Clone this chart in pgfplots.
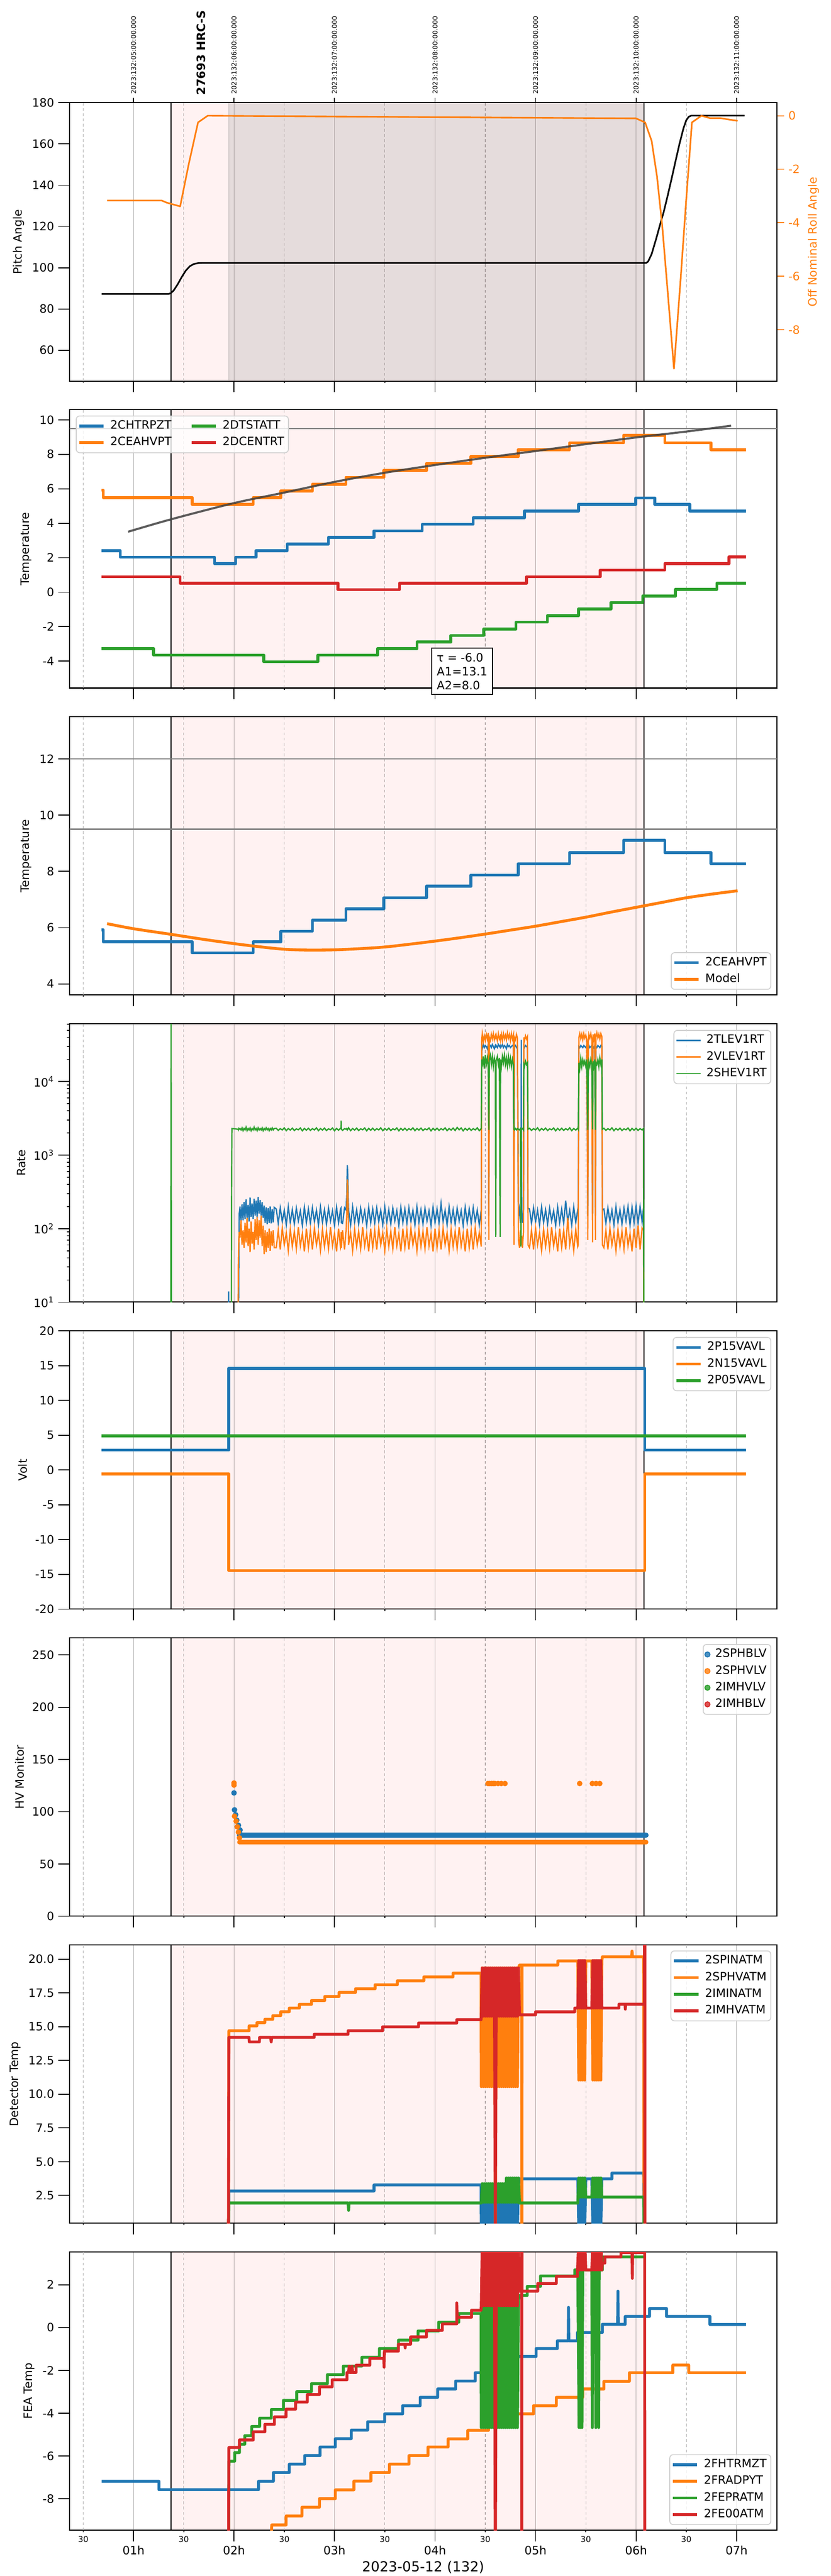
\documentclass[border=0pt]{standalone}
\usepackage{fontspec}
\setmainfont{DejaVu Sans}
\usepackage{pgfplots}
\usepackage{pgfplotstable}
\pgfplotsset{compat=1.18}
\definecolor{C0}{HTML}{1F77B4}
\definecolor{C1}{HTML}{FF7F0E}
\definecolor{C2}{HTML}{2CA02C}
\definecolor{C3}{HTML}{D62728}
\definecolor{gridc}{HTML}{B0B0B0}

\pgfplotstableread{
t tl vl sh
0.684 1 1 1
1.370 1 1 1
1.374 1 1 100000
1.378 1 1 1
1.944 1 1 1
1.947 14 1 1
1.950 1 1 1
1.972 1 1 1
1.976 1 1 500
1.980 1 1 2300
2.040 1 1 2250
2.043 1 30 2200
2.048 40 70 2300
2.052 160 90 2250
2.06 200 75 2300
2.07 125 130 2200
2.08 215 60 2350
2.09 130 95 2150
2.10 230 55 2300
2.11 135 120 2200
2.12 250 65 2400
2.13 140 140 2150
2.14 210 58 2300
2.15 125 100 2200
2.16 265 48 2350
2.17 145 125 2150
2.18 220 62 2300
2.19 135 90 2200
2.20 255 52 2400
2.21 150 135 2200
2.22 240 70 2300
2.23 140 145 2150
2.24 270 60 2350
2.25 160 130 2200
2.26 245 75 2300
2.27 150 150 2200
2.28 230 58 2350
2.29 140 110 2150
2.30 205 45 2300
2.31 120 95 2200
2.32 195 48 2350
2.33 115 90 2200
2.34 190 55 2300
2.35 120 100 2150
2.36 200 50 2300
2.37 118 92 2200
2.38 185 58 2350
2.39 122 95 2200
2.40 195 55 2300
2.42 185 55 2320
2.44 118 95 2170
2.46 192 52 2290
2.48 124 102 2200
2.50 178 60 2350
2.52 112 88 2150
2.54 198 50 2300
2.56 121 98 2190
2.58 181 57 2330
2.60 115 92 2160
2.62 190 53 2280
2.64 127 105 2210
2.66 175 58 2340
2.68 110 86 2140
2.70 196 49 2310
2.72 120 100 2180
2.74 185 55 2320
2.76 118 95 2170
2.78 192 52 2290
2.80 124 102 2200
2.82 178 60 2350
2.84 112 88 2150
2.86 198 50 2300
2.88 121 98 2190
2.90 181 57 2330
2.92 115 92 2160
2.94 190 53 2280
2.96 127 105 2210
2.98 175 58 2340
3.00 110 86 2140
3.02 196 49 2310
3.04 120 100 2180
3.06 185 55 2320
3.064 190 58 2300
3.066 175 90 2950
3.068 120 55 2250
3.08 118 95 2170
3.10 192 52 2290
3.115 180 95 2250
3.122 300 160 2300
3.127 731 466 2200
3.132 550 380 2250
3.137 250 120 2300
3.14 178 60 2350
3.16 112 88 2150
3.18 198 50 2300
3.20 121 98 2190
3.22 181 57 2330
3.24 115 92 2160
3.26 190 53 2280
3.28 127 105 2210
3.30 175 58 2340
3.32 110 86 2140
3.34 196 49 2310
3.36 120 100 2180
3.38 185 55 2320
3.40 118 95 2170
3.42 192 52 2290
3.44 124 102 2200
3.46 178 60 2350
3.48 112 88 2150
3.50 198 50 2300
3.52 121 98 2190
3.54 181 57 2330
3.56 115 92 2160
3.58 190 53 2280
3.60 127 105 2210
3.62 175 58 2340
3.64 110 86 2140
3.66 196 49 2310
3.68 120 100 2180
3.70 185 55 2320
3.72 118 95 2170
3.74 192 52 2290
3.76 124 102 2200
3.78 178 60 2350
3.80 112 88 2150
3.82 198 50 2300
3.84 121 98 2190
3.86 181 57 2330
3.88 115 92 2160
3.90 190 53 2280
3.92 127 105 2210
3.94 175 58 2340
3.96 110 86 2140
3.98 196 49 2310
4.00 120 100 2180
4.02 185 55 2320
4.04 118 95 2170
4.06 220 52 2290
4.08 124 102 2200
4.10 178 60 2350
4.12 112 88 2150
4.14 198 50 2300
4.16 121 98 2190
4.18 181 57 2330
4.20 115 92 2160
4.22 190 53 2380
4.24 127 105 2210
4.26 175 58 2340
4.28 110 86 2140
4.30 196 49 2310
4.32 120 100 2180
4.34 185 55 2320
4.36 118 95 2170
4.38 192 52 2290
4.40 124 102 2200
4.42 178 60 2350
4.44 112 88 2150
4.46 181 57 2300
4.465 30000 38000 20000
4.47 28000 45000 16000
4.48 32000 35000 22000
4.49 29000 42000 15000
4.50 31000 36000 23000
4.51 30000 44000 17000
4.52 28000 38000 21000
4.53 32000 46000 16000
4.535 150 70 2200
4.54 30000 40000 20000
4.55 31000 36000 23000
4.56 29000 44000 17000
4.57 32000 38000 22000
4.58 30000 45000 16000
4.59 28000 37000 21000
4.60 31000 42000 18000
4.604 30000 40000 77
4.608 31000 43000 19000
4.62 29000 36000 22000
4.63 32000 45000 17000
4.64 30000 38000 21000
4.648 31000 41000 77
4.652 29000 37000 20000
4.66 30000 44000 16000
4.67 32000 36000 22000
4.68 29000 45000 18000
4.69 31000 38000 23000
4.70 30000 43000 17000
4.71 28000 37000 21000
4.72 32000 46000 16000
4.73 30000 39000 22000
4.74 31000 44000 17000
4.75 29000 36000 21000
4.76 30000 45000 16000
4.77 31000 38000 20000
4.78 30000 43000 17000
4.785 160 60 2250
4.79 30000 40000 2200
4.80 31000 37000 2300
4.81 29000 44000 2200
4.82 30000 39000 2300
4.83 150 70 2250
4.84 185 55 2200
4.85 120 95 2300
4.855 150 70 57
4.858 37000 60 2200
4.862 160 80 2250
4.87 120 55 2300
4.88 185 90 2200
4.884 30000 40000 17000
4.89 29000 36000 16000
4.90 31000 42000 19000
4.91 30000 38000 17000
4.92 29000 41000 18000
4.925 190 60 2250
4.94 185 55 2320
4.96 118 95 2170
4.98 192 52 2290
5.00 124 102 2200
5.02 178 60 2350
5.04 112 88 2150
5.06 198 50 2300
5.08 121 98 2190
5.10 181 57 2330
5.12 115 92 2160
5.14 190 53 2280
5.16 127 105 2210
5.18 175 58 2340
5.20 110 86 2140
5.22 196 49 2310
5.24 120 100 2180
5.26 185 55 2320
5.28 118 95 2170
5.30 240 52 2290
5.32 124 140 2200
5.34 178 60 2350
5.36 112 88 2150
5.38 198 50 2300
5.40 121 98 2190
5.42 181 57 2330
5.425 170 60 2250
5.431 30000 40000 18000
5.44 29000 45000 15000
5.45 31000 38000 21000
5.46 30000 44000 16000
5.47 29000 37000 20000
5.48 31000 45000 17000
5.49 30000 39000 19000
5.50 29000 43000 16000
5.51 31000 37000 20000
5.52 150 70 2200
5.525 30000 38000 17000
5.53 31000 44000 19000
5.54 29000 39000 16000
5.55 30000 45000 20000
5.56 31000 38000 17000
5.567 160 65 2250
5.572 30000 44000 19000
5.58 29000 38000 16000
5.59 31000 45000 20000
5.596 150 70 2200
5.60 30000 40000 18000
5.61 29000 46000 17000
5.62 31000 39000 20000
5.63 30000 44000 16000
5.64 29000 38000 21000
5.65 31000 45000 17000
5.66 30000 41000 20000
5.665 180 60 2250
5.68 185 55 2320
5.70 118 95 2170
5.72 192 52 2290
5.74 124 102 2200
5.76 178 60 2350
5.78 112 88 2150
5.80 198 50 2300
5.82 121 98 2190
5.84 181 57 2330
5.86 115 92 2160
5.88 190 53 2280
5.90 127 105 2210
5.92 200 58 2340
5.94 110 86 2140
5.96 196 49 2310
5.98 120 100 2180
6.00 205 55 2320
6.02 118 110 2170
6.04 200 52 2290
6.06 124 102 2200
6.074 190 95 2300
6.078 1 1 1
6.09 1 1 1
}\ratetab

\pgfplotsset{
  base/.style={
    scale only axis, width=613.1pt, height=241.2pt, anchor=north west,
    xmin=0.362, xmax=7.402,
    xtick={1,2,3,4,5,6,7}, xticklabels={,,,,,,},
    extra x ticks={0.5,1.5,2.5,3.5,4.5,5.5,6.5}, extra x tick labels={,,,,,,},
    extra x tick style={major tick length=1.5pt, major grid style={gridc, line width=0.5pt, dash pattern=on 2.5pt off 2pt}},
    xmajorgrids=true, major grid style={gridc, line width=0.5pt},
    tick align=outside, xtick pos=left, ytick pos=left,
    major tick length=9.7pt, minor tick length=2.3pt,
    tick style={black, line width=0.8pt},
    axis line style={black, line width=0.9pt},
    tick label style={font=\fontsize{10}{12}\selectfont},
    label style={font=\fontsize{10}{12}\selectfont},
    /pgf/number format/assume math mode=true,
    clip mode=individual,
    legend cell align=left,
    legend style={font=\fontsize{10}{12}\selectfont, draw=black!18, line width=0.8pt, rounded corners=3pt,
      fill=white, fill opacity=0.8, text opacity=1, draw opacity=1,
      inner xsep=1.5pt, inner ysep=1.5pt, row sep=0pt, column sep=2.4pt,
      nodes={inner sep=2.2pt, text height=7.5pt, text depth=2.5pt}},
    legend image code/.code={\draw[#1] (0pt,0pt) -- (21pt,0pt);},
  },
  thk/.style={line width=2.5pt, line join=round},
}
\newcommand{\spans}[2]{%
  \addplot[fill=red, fill opacity=0.05, draw=none, forget plot] coordinates {(1.374,#1)(6.079,#1)(6.079,#2)(1.374,#2)} -- cycle;
  \addplot[black, line width=0.6pt, forget plot] coordinates {(1.374,#1)(1.374,#2)};
  \addplot[black, line width=0.6pt, forget plot] coordinates {(6.079,#1)(6.079,#2)};
}

\begin{document}
\begin{tikzpicture}
% ---------------- panel 1
\begin{axis}[base, at={(60.12pt,-88.92pt)},
  ymin=45.1, ymax=180, ytick={60,80,100,120,140,160,180}, ylabel={Pitch Angle}]
\spans{45.1}{180}
\addplot[fill=black!50, fill opacity=0.2, draw=black!50, draw opacity=0.25, line width=1pt, forget plot] coordinates {(1.948,45.1)(6.079,45.1)(6.079,180)(1.948,180)} -- cycle;
\addplot[black, line width=1.4pt, line join=round] coordinates {(0.684,87.3)(1.348,87.3)(1.37,87.6)(1.40,89.0)(1.44,92.0)(1.48,95.5)(1.52,98.6)(1.56,100.7)(1.60,101.8)(1.64,102.2)(1.68,102.3)(6.10,102.3)(6.12,103.0)(6.155,106.6)(6.20,114)(6.234,120)(6.275,127)(6.313,134.6)(6.353,143)(6.393,151.7)(6.432,160)(6.472,167.6)(6.50,171.5)(6.525,173.2)(6.55,173.7)(7.08,173.7)};
\node[rotate=90, anchor=west, font=\bfseries\fontsize{10}{12}\selectfont, inner sep=0pt] at ([yshift=6.5pt]axis cs:1.675,180) {27693 HRC-S};
\end{axis}
% top date labels
\begin{axis}[scale only axis, width=613.1pt, height=241.2pt, anchor=north west, at={(60.12pt,-88.92pt)},
  xmin=0.362, xmax=7.402, ymin=0, ymax=1, axis y line=none, axis x line*=top,
  xtick={1,2,3,4,5,6,7}, tick align=outside, major tick length=4pt,
  xtick style={black, line width=0.8pt}, axis line style={black, line width=0.9pt},
  xticklabels={2023:132:05:00:00.000,2023:132:06:00:00.000,2023:132:07:00:00.000,2023:132:08:00:00.000,2023:132:09:00:00.000,2023:132:10:00:00.000,2023:132:11:00:00.000},
  xticklabel style={rotate=90, anchor=west, font=\fontsize{5.7}{6}\selectfont}]
\end{axis}
\begin{axis}[scale only axis, width=613.1pt, height=241.2pt, anchor=north west, at={(60.12pt,-88.92pt)},
  xmin=0.362, xmax=7.402, axis x line=none, axis y line*=right,
  ymin=-9.92, ymax=0.49, ytick={-8,-6,-4,-2,0}, tick align=outside, major tick length=6.4pt,
  ytick style={C1, line width=0.8pt}, yticklabel style={C1, font=\fontsize{10}{12}\selectfont},
  axis line style={black, line width=0.9pt},
  ylabel={Off Nominal Roll Angle}, ylabel style={C1, font=\fontsize{10}{12}\selectfont},
  /pgf/number format/assume math mode=true, clip mode=individual]
\addplot[C1, line width=1.4pt, line join=round] coordinates {(0.737,-3.17)(1.28,-3.17)(1.33,-3.25)(1.464,-3.39)(1.55,-1.8)(1.642,-0.25)(1.738,0.0)(6.0,-0.10)(6.09,-0.25)(6.155,-0.94)(6.208,-2.26)(6.261,-4.14)(6.313,-6.5)(6.377,-9.46)(6.445,-6.03)(6.498,-3.2)(6.556,-0.25)(6.651,0.0)(6.735,-0.09)(6.841,-0.09)(6.92,-0.14)(7.01,-0.19)};
\end{axis}

% ---------------- panel 2
\begin{axis}[base, at={(60.12pt,-354.96pt)},
  ymin=-5.56, ymax=10.59, ytick={-4,-2,0,2,4,6,8,10}, ylabel={Temperature},
  legend columns=2, transpose legend,
  legend style={at={(0.009,0.979)}, anchor=north west, /tikz/every even column/.append style={column sep=14pt}}]
\spans{-5.56}{10.59}
\addplot[black!50, line width=1pt, forget plot] coordinates {(0.362,9.5)(7.402,9.5)};
\addplot[C0, thk] coordinates {(0.684,2.41)(0.868,2.41)(0.868,2.03)(1.807,2.03)(1.807,1.65)(2.017,1.65)(2.017,2.03)(2.218,2.03)(2.218,2.41)(2.529,2.41)(2.529,2.80)(2.94,2.80)(2.94,3.18)(3.393,3.18)(3.393,3.56)(3.873,3.56)(3.873,3.94)(4.379,3.94)(4.379,4.32)(4.89,4.32)(4.89,4.71)(5.428,4.71)(5.428,5.09)(5.997,5.09)(5.997,5.47)(6.187,5.47)(6.187,5.09)(6.535,5.09)(6.535,4.71)(7.094,4.71)};
\addlegendentry{2CHTRPZT}
\addplot[C1, thk] coordinates {(0.684,5.92)(0.70,5.92)(0.70,5.49)(1.585,5.49)(1.585,5.10)(2.19,5.10)(2.19,5.49)(2.466,5.49)(2.466,5.87)(2.78,5.87)(2.78,6.27)(3.114,6.27)(3.114,6.67)(3.49,6.67)(3.49,7.06)(3.915,7.06)(3.915,7.47)(4.358,7.47)(4.358,7.87)(4.827,7.87)(4.827,8.27)(5.338,8.27)(5.338,8.67)(5.876,8.67)(5.876,9.10)(6.287,9.10)(6.287,8.67)(6.746,8.67)(6.746,8.27)(7.094,8.27)};
\addlegendentry{2CEAHVPT}
\addplot[C2, thk] coordinates {(0.684,-3.27)(1.2,-3.27)(1.2,-3.65)(2.297,-3.65)(2.297,-4.03)(2.835,-4.03)(2.835,-3.65)(3.43,-3.65)(3.43,-3.27)(3.82,-3.27)(3.82,-2.89)(4.158,-2.89)(4.158,-2.51)(4.485,-2.51)(4.485,-2.13)(4.806,-2.13)(4.806,-1.74)(5.117,-1.74)(5.117,-1.36)(5.428,-1.36)(5.428,-0.98)(5.75,-0.98)(5.75,-0.60)(6.066,-0.60)(6.066,-0.22)(6.393,-0.22)(6.393,0.16)(6.804,0.16)(6.804,0.53)(7.094,0.53)};
\addlegendentry{2DTSTATT}
\addplot[C3, thk] coordinates {(0.684,0.90)(1.464,0.90)(1.464,0.52)(3.035,0.52)(3.035,0.15)(3.646,0.15)(3.646,0.52)(4.91,0.52)(4.91,0.90)(5.644,0.90)(5.644,1.28)(6.287,1.28)(6.287,1.66)(6.925,1.66)(6.925,2.04)(7.094,2.04)};
\addlegendentry{2DCENTRT}
\addplot[black!75, opacity=0.85, line width=1.8pt, smooth, forget plot] coordinates {(0.947,3.51)(1.374,4.23)(2.0,5.17)(2.5,5.78)(3.0,6.40)(3.5,6.93)(4.0,7.38)(4.5,7.80)(5.0,8.19)(5.5,8.59)(6.0,8.98)(6.5,9.32)(6.946,9.66)};
\node[draw=black, line width=0.9pt, fill=white, align=left, anchor=north, inner sep=4.5pt, font=\fontsize{10}{12}\selectfont] at (axis cs:4.27,-3.2) {τ = -6.0\\A1=13.1\\A2=8.0};
\end{axis}

% ---------------- panel 3
\begin{axis}[base, at={(60.12pt,-621.0pt)},
  ymin=3.6, ymax=13.5, ytick={4,6,8,10,12}, ylabel={Temperature},
  legend style={at={(0.992,0.019)}, anchor=south east}]
\spans{3.6}{13.5}
\addplot[black!50, line width=1pt, forget plot] coordinates {(0.362,12)(7.402,12)};
\addplot[black!50, line width=1pt, forget plot] coordinates {(0.362,9.5)(7.402,9.5)};
\addplot[C0, thk] coordinates {(0.684,5.92)(0.70,5.92)(0.70,5.49)(1.585,5.49)(1.585,5.10)(2.19,5.10)(2.19,5.49)(2.466,5.49)(2.466,5.87)(2.78,5.87)(2.78,6.27)(3.114,6.27)(3.114,6.67)(3.49,6.67)(3.49,7.06)(3.915,7.06)(3.915,7.47)(4.358,7.47)(4.358,7.87)(4.827,7.87)(4.827,8.27)(5.338,8.27)(5.338,8.67)(5.876,8.67)(5.876,9.10)(6.287,9.10)(6.287,8.67)(6.746,8.67)(6.746,8.27)(7.094,8.27)};
\addlegendentry{2CEAHVPT}
\addplot[C1, thk, smooth] coordinates {(0.737,6.14)(1.0,5.96)(1.374,5.76)(1.7,5.58)(2.0,5.43)(2.25,5.32)(2.5,5.23)(2.75,5.20)(3.0,5.21)(3.25,5.25)(3.5,5.31)(3.75,5.41)(4.0,5.52)(4.25,5.64)(4.5,5.77)(4.75,5.91)(5.0,6.05)(5.25,6.21)(5.5,6.37)(5.75,6.55)(6.0,6.72)(6.25,6.89)(6.5,7.06)(6.75,7.19)(7.01,7.31)};
\addlegendentry{Model}
\end{axis}

% ---------------- panel 4
\begin{axis}[base, at={(60.12pt,-887.04pt)},
  ymode=log, ymin=10, ymax=61200, ytick={10,100,1000,10000},
  yticklabels={10\textsuperscript{1},10\textsuperscript{2},10\textsuperscript{3},10\textsuperscript{4}},
  minor ytick={20,30,40,50,60,70,80,90,200,300,400,500,600,700,800,900,2000,3000,4000,5000,6000,7000,8000,9000,20000,30000,40000,50000,60000},
  ylabel={Rate},
  legend style={at={(0.992,0.978)}, anchor=north east}]
\spans{10}{70000}
\addplot[C0, line width=1.1pt] table[x=t, y=tl] {\ratetab};
\addlegendentry{2TLEV1RT}
\addplot[C1, line width=1.1pt] table[x=t, y=vl] {\ratetab};
\addlegendentry{2VLEV1RT}
\addplot[C2, line width=1.1pt] table[x=t, y=sh] {\ratetab};
\addlegendentry{2SHEV1RT}
\end{axis}

% ---------------- panel 5
\begin{axis}[base, at={(60.12pt,-1153.08pt)},
  ymin=-20, ymax=20, ytick={-20,-15,-10,-5,0,5,10,15,20}, ylabel={Volt},
  legend style={at={(0.992,0.978)}, anchor=north east}]
\spans{-20}{20}
\addplot[C0, thk] coordinates {(0.684,2.86)(1.949,2.86)(1.949,14.6)(6.087,14.6)(6.087,2.86)(7.094,2.86)};
\addlegendentry{2P15VAVL}
\addplot[C1, thk] coordinates {(0.684,-0.58)(1.949,-0.58)(1.949,-14.44)(6.087,-14.44)(6.087,-0.58)(7.094,-0.58)};
\addlegendentry{2N15VAVL}
\addplot[C2, thk] coordinates {(0.684,4.9)(7.094,4.9)};
\addlegendentry{2P05VAVL}
\end{axis}

% ---------------- panel 6
\begin{axis}[base, at={(60.12pt,-1419.12pt)},
  ymin=0, ymax=266.4, ytick={0,50,100,150,200,250}, ylabel={HV Monitor},
  legend style={at={(0.992,0.978)}, anchor=north east},
  legend image code/.code={\draw[mark repeat=1, mark phase=1, #1] plot coordinates {(11pt,0pt)};}]
\spans{0}{266.4}
\addplot[C0, line width=4.4pt, line cap=round, forget plot] coordinates {(2.054,77.5)(6.10,77.5)};
\addplot[C1, line width=4.0pt, line cap=round, forget plot] coordinates {(2.054,70.8)(6.10,70.8)};
\addplot[C0, only marks, mark=*, mark size=2.2pt] coordinates {(2.0,118)(2.005,101.8)(2.016,97.1)(2.027,92)(2.044,87)(2.06,82.5)(2.07,78)};
\addlegendentry{2SPHBLV}
\addplot[C1, only marks, mark=*, mark size=2.2pt] coordinates {(2.0,127.5)(2.0,125.5)(2.005,95.7)(2.021,91)(2.032,85.6)(2.044,80.5)(2.054,75)(4.527,127)(4.545,127)(4.564,127)(4.58,127)(4.596,127)(4.627,127)(4.659,127)(4.696,127)(5.439,127)(5.565,127)(5.602,127)(5.639,127)};
\addlegendentry{2SPHVLV}
\addlegendimage{C2, only marks, mark=*, mark size=2.2pt}
\addlegendentry{2IMHVLV}
\addlegendimage{C3, only marks, mark=*, mark size=2.2pt}
\addlegendentry{2IMHBLV}
\end{axis}

% ---------------- panel 7
\begin{axis}[base, at={(60.12pt,-1685.16pt)},
  ymin=0.44, ymax=21.06, ytick={2.5,5,7.5,10,12.5,15,17.5,20}, ylabel={Detector Temp},
  yticklabel style={/pgf/number format/.cd, fixed, fixed zerofill, precision=1},
  legend style={at={(0.992,0.98)}, anchor=north east}]
\spans{0.44}{21.06}
\addplot[C0, thk] coordinates {(1.945,0)(1.95,2.83)(3.393,2.83)(3.393,3.28)(4.458,3.28)
(4.46,0.2)(4.47,3.3)(4.48,0.2)(4.49,3.3)(4.50,0.2)(4.51,3.3)(4.52,0.2)(4.53,3.3)(4.54,0.2)(4.55,3.3)(4.56,0.2)(4.57,3.3)(4.58,0.2)(4.59,3.3)(4.60,0.2)(4.61,3.3)(4.62,0.2)(4.63,3.3)(4.64,0.2)(4.65,3.3)(4.66,0.2)(4.67,3.3)(4.68,0.2)(4.69,3.3)(4.70,0.2)(4.71,3.3)(4.72,0.2)(4.73,3.3)(4.74,0.2)(4.75,3.3)(4.76,0.2)(4.77,3.3)(4.78,0.2)(4.79,3.3)(4.80,0.2)(4.81,3.3)(4.82,0.2)(4.83,3.3)
(4.84,3.73)(5.42,3.73)
(5.43,0.2)(5.44,3.73)(5.45,0.2)(5.46,3.73)(5.47,0.2)(5.48,3.73)(5.49,0.2)(5.50,3.73)(5.56,3.73)(5.57,0.2)(5.58,3.73)(5.59,0.2)(5.60,3.73)(5.61,0.2)(5.62,3.73)(5.63,0.2)(5.64,3.73)(5.65,0.2)(5.66,3.73)
(5.76,3.73)(5.76,4.16)(6.075,4.16)(6.08,0)};
\addlegendentry{2SPINATM}
\addplot[C1, thk] coordinates {(1.945,0)(1.949,14.70)(2.15,14.70)(2.15,15.06)(2.228,15.06)(2.228,15.30)(2.307,15.30)(2.307,15.55)(2.386,15.55)(2.386,15.82)(2.465,15.82)(2.465,16.11)(2.55,16.11)(2.55,16.38)(2.65,16.38)(2.65,16.66)(2.771,16.66)(2.771,16.94)(2.903,16.94)(2.903,17.24)(3.045,17.24)(3.045,17.54)(3.209,17.54)(3.209,17.81)(3.404,17.81)(3.404,18.11)(3.625,18.11)(3.625,18.40)(3.889,18.40)(3.889,18.69)(4.179,18.69)(4.179,18.97)(4.458,18.97)
(4.46,10.56)(4.47,19.36)(4.48,10.56)(4.49,19.36)(4.50,10.56)(4.51,19.36)(4.52,10.56)(4.53,19.36)(4.54,10.56)(4.55,19.36)(4.56,10.56)(4.57,19.36)(4.58,10.56)(4.59,19.36)(4.60,0)(4.61,19.36)(4.62,10.56)(4.63,19.36)(4.64,10.56)(4.65,19.36)(4.66,10.56)(4.67,19.36)(4.68,10.56)(4.69,19.36)(4.70,10.56)(4.71,19.36)(4.72,10.56)(4.73,19.36)(4.74,10.56)(4.75,19.36)(4.76,10.56)(4.77,19.36)(4.78,10.56)(4.79,19.36)(4.80,10.56)(4.81,19.36)(4.82,10.56)(4.83,19.36)
(4.84,19.57)(4.862,19.57)(4.864,0)(4.866,19.57)(5.222,19.57)(5.222,19.87)(5.42,19.87)
(5.43,11.05)(5.44,19.9)(5.45,11.05)(5.46,19.9)(5.47,11.05)(5.48,19.9)(5.49,11.05)(5.50,19.87)(5.56,19.87)(5.57,11.05)(5.58,19.9)(5.59,11.05)(5.60,19.9)(5.61,11.05)(5.62,19.9)(5.63,11.05)(5.64,19.9)(5.65,11.05)(5.66,19.9)
(5.665,20.18)(5.955,20.18)(5.96,20.6)(5.965,20.18)(6.075,20.18)(6.08,0)};
\addlegendentry{2SPHVATM}
\addplot[C2, thk] coordinates {(1.945,0)(1.95,1.94)(3.135,1.94)(3.14,1.4)(3.145,1.94)(4.458,1.94)
(4.46,2.0)(4.47,3.37)(4.48,2.0)(4.49,3.37)(4.50,2.0)(4.51,3.37)(4.52,2.0)(4.53,3.37)(4.54,2.0)(4.55,3.37)(4.56,2.0)(4.57,3.37)(4.58,2.0)(4.59,3.37)(4.60,2.0)(4.61,3.37)(4.62,2.0)(4.63,3.37)(4.64,2.0)(4.65,3.37)(4.66,2.0)(4.67,3.37)(4.68,2.0)(4.69,3.37)(4.70,2.0)(4.71,3.8)(4.72,2.0)(4.73,3.8)(4.74,2.0)(4.75,3.8)(4.76,2.0)(4.77,3.8)(4.78,2.0)(4.79,3.8)(4.80,2.0)(4.81,3.8)(4.82,2.0)(4.83,3.8)
(4.84,1.94)(5.42,1.94)
(5.43,3.8)(5.44,2.38)(5.45,3.8)(5.46,2.38)(5.47,3.8)(5.48,2.38)(5.49,3.8)(5.50,2.38)(5.56,2.38)(5.57,3.8)(5.58,2.38)(5.59,3.8)(5.60,2.38)(5.61,3.8)(5.62,2.38)(5.63,3.8)(5.64,2.38)(5.65,3.8)(5.66,2.38)
(6.075,2.38)(6.08,0)};
\addlegendentry{2IMINATM}
\addplot[C3, thk] coordinates {(1.945,0)(1.949,14.21)(2.149,14.21)(2.152,13.87)(2.252,13.87)(2.255,14.21)(2.365,14.21)(2.37,13.87)(2.375,14.21)(2.798,14.21)(2.798,14.44)(3.135,14.44)(3.135,14.70)(3.478,14.70)(3.478,14.99)(3.836,14.99)(3.836,15.27)(4.216,15.27)(4.216,15.52)(4.458,15.52)
(4.46,15.78)(4.47,19.35)(4.48,15.78)(4.49,19.35)(4.50,15.78)(4.51,19.35)(4.52,15.78)(4.53,19.35)(4.54,15.78)(4.55,19.35)(4.56,15.78)(4.57,19.35)(4.58,15.78)(4.59,19.35)(4.60,0)(4.61,19.35)(4.62,15.78)(4.63,19.35)(4.64,15.78)(4.65,19.35)(4.66,15.78)(4.67,19.35)(4.68,15.78)(4.69,19.35)(4.70,15.78)(4.71,19.35)(4.72,15.78)(4.73,19.35)(4.74,15.78)(4.75,19.35)(4.76,15.78)(4.77,19.35)(4.78,15.78)(4.79,19.35)(4.80,15.78)(4.81,19.35)(4.82,15.78)(4.83,19.35)
(4.84,15.88)(5.0,15.88)(5.0,16.1)(5.39,16.1)(5.39,16.38)(5.42,16.38)
(5.43,19.9)(5.44,16.38)(5.45,19.9)(5.46,16.38)(5.47,19.9)(5.48,16.38)(5.49,19.9)(5.50,16.38)(5.56,16.38)(5.57,19.9)(5.58,16.38)(5.59,19.9)(5.60,16.38)(5.61,19.9)(5.62,16.38)(5.63,19.9)(5.64,16.38)(5.65,19.9)(5.66,16.38)
(5.83,16.38)(5.83,16.67)(5.89,16.67)(5.893,16.3)(5.896,16.67)(6.083,16.67)(6.087,60)(6.089,-60)};
\addlegendentry{2IMHVATM}
\end{axis}

% ---------------- panel 8
\begin{axis}[base, at={(60.12pt,-1951.2pt)},
  ymin=-9.47, ymax=3.53, ytick={-8,-6,-4,-2,0,2}, ylabel={FEA Temp},
  xticklabels={01h,02h,03h,04h,05h,06h,07h},
  extra x tick labels={30,30,30,30,30,30,30},
  extra x tick style={major tick length=1.5pt, xticklabel style={font=\fontsize{7}{8}\selectfont}},
  xlabel={2023-05-12 (132)}, xlabel style={font=\fontsize{12}{14}\selectfont, at={(axis description cs:0.5,0)}, anchor=center, yshift=-32pt},
  legend style={at={(0.992,0.019)}, anchor=south east}]
\spans{-9.47}{3.53}
\addplot[C0, thk] coordinates {(0.684,-7.18)(1.253,-7.18)(1.253,-7.57)(2.244,-7.57)(2.244,-7.18)(2.392,-7.18)(2.392,-6.77)(2.55,-6.77)(2.55,-6.38)(2.703,-6.38)(2.703,-5.98)(2.856,-5.98)(2.856,-5.58)(3.008,-5.58)(3.008,-5.19)(3.167,-5.19)(3.167,-4.79)(3.33,-4.79)(3.33,-4.40)(3.499,-4.40)(3.499,-4.03)(3.678,-4.03)(3.678,-3.65)(3.852,-3.65)(3.852,-3.26)(4.026,-3.26)(4.026,-2.87)(4.205,-2.87)(4.205,-2.50)(4.40,-2.50)(4.40,-2.11)(4.58,-2.11)(4.58,-1.73)(4.76,-1.73)(4.76,-1.35)(5.006,-1.35)(5.006,-0.98)(5.217,-0.98)(5.217,-0.62)(5.325,-0.62)(5.328,0.94)(5.331,-0.62)(5.417,-0.62)(5.417,-0.23)(5.665,-0.23)(5.665,0.15)(5.817,0.15)(5.82,1.70)(5.823,0.15)(5.892,0.15)(5.892,0.52)(6.134,0.52)(6.134,0.89)(6.303,0.89)(6.303,0.52)(6.735,0.52)(6.735,0.14)(7.094,0.14)};
\addlegendentry{2FHTRMZT}
\addplot[C1, thk] coordinates {(2.37,-10)(2.375,-9.22)(2.518,-9.22)(2.518,-8.80)(2.676,-8.80)(2.676,-8.39)(2.85,-8.39)(2.85,-7.99)(3.008,-7.99)(3.008,-7.58)(3.193,-7.58)(3.193,-7.17)(3.362,-7.17)(3.362,-6.77)(3.546,-6.77)(3.546,-6.38)(3.741,-6.38)(3.741,-5.98)(3.93,-5.98)(3.93,-5.58)(4.13,-5.58)(4.13,-5.20)(4.326,-5.20)(4.326,-4.80)(4.532,-4.80)(4.532,-4.42)(4.74,-4.42)(4.74,-4.03)(4.98,-4.03)(4.98,-3.65)(5.207,-3.65)(5.207,-3.26)(5.47,-3.26)(5.47,-2.87)(5.68,-2.87)(5.68,-2.51)(5.934,-2.51)(5.934,-2.11)(6.366,-2.11)(6.366,-1.75)(6.524,-1.75)(6.524,-2.11)(7.094,-2.11)};
\addlegendentry{2FRADPYT}
\addplot[C2, thk] coordinates {(1.945,-12)(1.95,-6.24)(2.007,-6.24)(2.007,-5.84)(2.054,-5.84)(2.054,-5.45)(2.107,-5.45)(2.107,-5.05)(2.176,-5.05)(2.176,-4.62)(2.255,-4.62)(2.255,-4.23)(2.371,-4.23)(2.371,-3.83)(2.492,-3.83)(2.492,-3.40)(2.624,-3.40)(2.624,-2.99)(2.771,-2.99)(2.771,-2.62)(2.929,-2.62)(2.929,-2.20)(3.088,-2.20)(3.088,-1.80)(3.272,-1.80)(3.272,-1.39)(3.446,-1.39)(3.446,-0.98)(3.636,-0.98)(3.636,-0.59)(3.831,-0.59)(3.831,-0.16)(4.036,-0.16)(4.036,0.25)(4.237,0.25)(4.237,0.66)(4.458,0.66)
(4.46,-4.67)(4.47,1.3)(4.48,-4.67)(4.49,1.3)(4.50,-4.67)(4.51,1.3)(4.52,-4.67)(4.53,1.3)(4.54,-4.67)(4.55,1.3)(4.56,-4.67)(4.57,1.3)(4.58,-4.67)(4.59,1.3)(4.60,-4.67)(4.61,1.3)(4.62,-4.67)(4.63,1.3)(4.64,-4.67)(4.65,1.3)(4.66,-4.67)(4.67,1.3)(4.68,-4.67)(4.69,1.3)(4.70,-4.67)(4.71,1.3)(4.72,-4.67)(4.73,1.3)(4.74,-4.67)(4.75,1.3)(4.76,-4.67)(4.77,1.3)(4.78,-4.67)(4.79,1.3)(4.80,-4.67)(4.81,1.3)(4.82,-4.67)(4.83,1.3)
(4.84,1.5)(4.917,1.5)(4.917,1.92)(5.049,1.92)(5.049,2.41)(5.39,2.41)(5.39,2.69)(5.42,2.69)
(5.433,-4.67)(5.44,2.69)(5.447,-4.67)(5.455,2.69)(5.462,-4.67)(5.47,2.69)(5.56,2.69)(5.565,-4.67)(5.57,2.69)(5.595,2.69)(5.60,-4.67)(5.605,2.69)(5.623,2.69)(5.628,-4.67)(5.633,2.69)(5.665,2.69)(5.665,3.30)(6.075,3.30)};
\addlegendentry{2FEPRATM}
\addplot[C3, thk] coordinates {(1.945,-12)(1.949,-5.60)(2.054,-5.60)(2.054,-5.25)(2.191,-5.25)(2.191,-4.87)(2.307,-4.87)(2.307,-4.52)(2.402,-4.52)(2.402,-4.17)(2.518,-4.17)(2.518,-3.81)(2.613,-3.81)(2.613,-3.48)(2.729,-3.48)(2.729,-3.13)(2.85,-3.13)(2.85,-2.77)(2.977,-2.77)(2.977,-2.44)(3.124,-2.44)(3.124,-2.10)(3.14,-2.10)(3.145,-1.8)(3.15,-2.10)(3.17,-2.10)(3.175,-1.8)(3.18,-2.10)(3.214,-2.10)(3.214,-1.76)(3.351,-1.76)(3.351,-1.44)(3.49,-1.44)(3.493,-1.85)(3.496,-1.10)(3.636,-1.10)(3.636,-0.78)(3.70,-0.78)(3.703,-0.95)(3.706,-0.78)(3.757,-0.78)(3.757,-0.44)(3.915,-0.44)(3.915,-0.13)(4.073,-0.13)(4.073,0.17)(4.216,0.17)(4.216,1.15)(4.22,0.48)(4.363,0.48)(4.363,0.81)(4.458,0.81)
(4.46,1.02)(4.47,4.0)(4.48,1.02)(4.49,4.0)(4.50,1.02)(4.51,4.0)(4.52,1.02)(4.53,4.0)(4.54,1.02)(4.55,4.0)(4.56,1.02)(4.57,4.0)(4.58,1.02)(4.59,4.0)(4.60,-12)(4.61,4.0)(4.62,1.02)(4.63,4.0)(4.64,1.02)(4.65,4.0)(4.66,1.02)(4.67,4.0)(4.68,1.02)(4.69,4.0)(4.70,1.02)(4.71,4.0)(4.72,1.02)(4.73,4.0)(4.74,1.02)(4.75,4.0)(4.76,1.02)(4.77,4.0)(4.78,1.02)(4.79,4.0)(4.80,1.02)(4.81,4.0)(4.82,1.02)(4.83,4.0)
(4.84,1.70)(4.862,1.70)(4.863,-12)(4.864,12)(4.866,1.70)(5.022,1.70)(5.022,2.06)(5.207,2.06)(5.207,2.39)(5.417,2.39)(5.417,2.69)
(5.43,4.0)(5.44,2.69)(5.45,4.0)(5.46,2.69)(5.47,4.0)(5.48,2.69)(5.49,4.0)(5.50,2.69)(5.56,2.69)(5.57,4.0)(5.58,2.69)(5.59,4.0)(5.60,2.69)(5.61,4.0)(5.62,2.69)(5.63,4.0)(5.64,2.69)(5.65,4.0)(5.66,2.69)
(5.665,3.01)(5.69,3.01)(5.69,3.30)(5.85,3.30)(5.85,3.50)(5.96,3.50)(5.963,2.3)(5.966,3.5)(6.083,3.5)(6.085,12)(6.087,-12)};
\addlegendentry{2FE00ATM}
\end{axis}
\pgfresetboundingbox
\path[use as bounding box] (0pt,0pt) rectangle (720pt,-2232pt);
\end{tikzpicture}
\end{document}
